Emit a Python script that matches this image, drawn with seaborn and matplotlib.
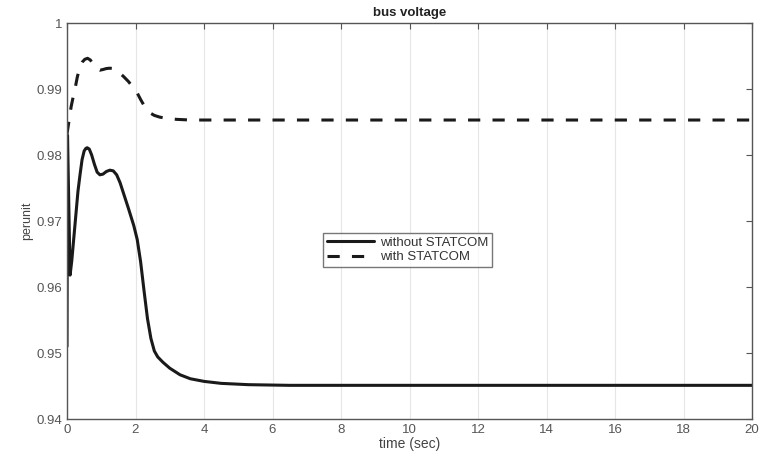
import matplotlib
matplotlib.use("Agg")
import matplotlib.pyplot as plt
import seaborn as sns
import pandas as pd

# ---- data ----
t_without = [0, 0.015, 0.09, 0.14, 0.2, 0.26, 0.32, 0.38, 0.44, 0.5, 0.55, 0.59,
             0.65, 0.72, 0.8, 0.88, 0.96, 1.05, 1.15, 1.25, 1.35, 1.45, 1.55,
             1.65, 1.8, 1.95, 2.05, 2.15, 2.25, 2.35, 2.45, 2.55, 2.65, 2.8, 3.0,
             3.3, 3.6, 4.0, 4.5, 5.3, 6.5, 20]
v_without = [0.951, 0.983, 0.9618, 0.9640, 0.9675, 0.9710, 0.9745, 0.9770, 0.9793,
             0.9806, 0.9810, 0.9811, 0.9809, 0.9800, 0.9786, 0.9774, 0.9770, 0.9771,
             0.9775, 0.9777, 0.9776, 0.9770, 0.9758, 0.9742, 0.9718, 0.9693, 0.9672,
             0.9638, 0.9594, 0.9552, 0.9522, 0.9503, 0.9494, 0.9486, 0.9477, 0.9467,
             0.9461, 0.9457, 0.9454, 0.9452, 0.9451, 0.9451]

t_with = [0, 0.06, 0.12, 0.18, 0.23, 0.3, 0.38, 0.45, 0.52, 0.6, 0.68, 0.76, 0.86,
          0.96, 1.05, 1.15, 1.25, 1.35, 1.5, 1.65, 1.8, 1.95, 2.05, 2.15, 2.25,
          2.35, 2.45, 2.55, 2.7, 2.9, 3.2, 3.6, 20]
v_with = [0.9832, 0.9852, 0.9873, 0.9888, 0.9899, 0.9918, 0.9934, 0.9941, 0.9945,
          0.99465, 0.9944, 0.9938, 0.9931, 0.99285, 0.99295, 0.9931, 0.99315, 0.9931,
          0.9926, 0.9919, 0.9911, 0.9901, 0.9894, 0.9884, 0.9875, 0.9868, 0.9863,
          0.9860, 0.98575, 0.98555, 0.9854, 0.9853, 0.9853]

x_ticks = [0, 2, 4, 6, 8, 10, 12, 14, 16, 18, 20]
y_ticks = [0.94, 0.95, 0.96, 0.97, 0.98, 0.99, 1.0]
y_ticklabels = ["0.94", "0.95", "0.96", "0.97", "0.98", "0.99", "1"]
labels = ["without STATCOM", "with STATCOM"]

sns.set_style("white")
plt.rcParams["font.family"] = ["Liberation Sans", "DejaVu Sans"]

fig = plt.figure(figsize=(7.6, 4.59), dpi=100)
ax = fig.add_axes([67 / 760, 40 / 459, 685 / 760, 396 / 459])

df1 = pd.DataFrame({"t": t_without, "v": v_without})
df2 = pd.DataFrame({"t": t_with, "v": v_with})
sns.lineplot(data=df1, x="t", y="v", ax=ax, color="#1a1a1a", linewidth=2.2,
             label=labels[0], sort=False)
sns.lineplot(data=df2, x="t", y="v", ax=ax, color="#1a1a1a", linewidth=2.2,
             label=labels[1], sort=False)
ax.lines[1].set_dashes([4, 4])

ax.set_xlim(0, 20)
ax.set_ylim(0.94, 1.0)
ax.set_xticks(x_ticks)
ax.set_yticks(y_ticks)
ax.set_yticklabels(y_ticklabels)
ax.xaxis.grid(True, color="#e6e6e6", linewidth=0.8)
ax.yaxis.grid(False)
ax.tick_params(direction="in", top=True, right=True, length=4, width=0.8,
               colors="#555555", labelsize=9.5, labelcolor="#555555")
for s in ax.spines.values():
    s.set_color("#555555")
    s.set_linewidth(1.0)

ax.set_title("bus voltage", fontsize=9.5, fontweight="bold", color="#222222", pad=5)
ax.set_xlabel("time (sec)", fontsize=10, color="#444444", labelpad=1)
ax.set_ylabel("perunit", fontsize=9, color="#444444", labelpad=2)

leg = ax.legend(loc="center", bbox_to_anchor=(0.497, 0.427), fontsize=9.5,
                frameon=True, fancybox=False, edgecolor="#555555",
                handlelength=3.6, handletextpad=0.4, borderpad=0.3,
                labelspacing=0.15, borderaxespad=0)
leg.get_frame().set_linewidth(1.0)
for txt in leg.get_texts():
    txt.set_color("#333333")

fig.savefig("out.png", dpi=100)
